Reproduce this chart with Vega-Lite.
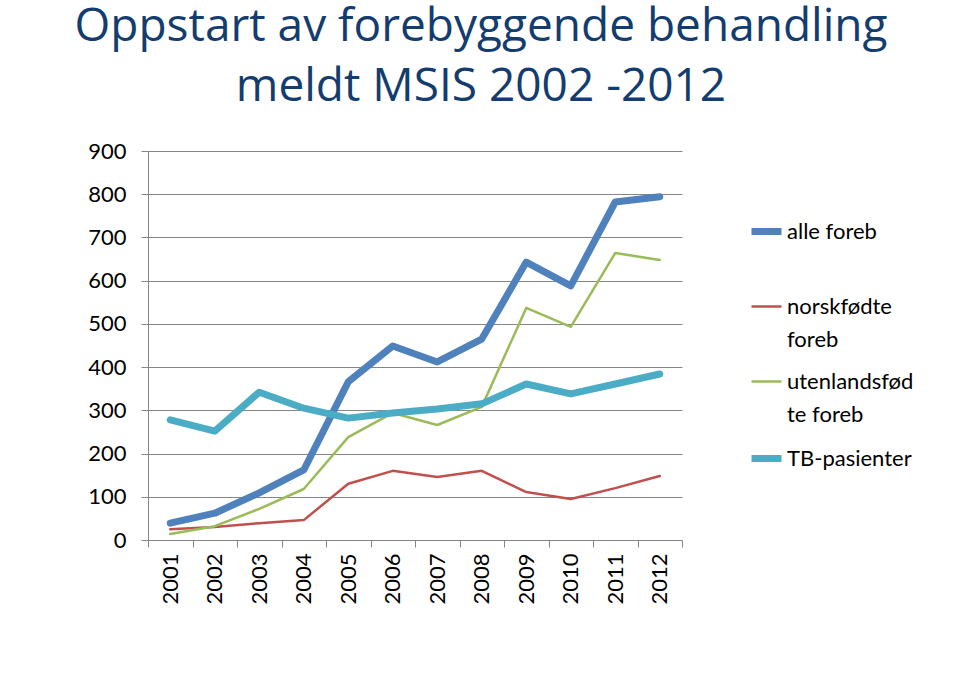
{
  "$schema": "https://vega.github.io/schema/vega-lite/v6.json",
  "width": 534,
  "height": 389,
  "autosize": {"type": "none"},
  "padding": {"left": 148, "top": 151, "right": 278, "bottom": 141},
  "background": "white",
  "title": {
    "text": ["Oppstart av forebyggende behandling", "meldt MSIS 2002 -2012"],
    "font": "Open Sans",
    "fontSize": 46,
    "fontWeight": "normal",
    "color": "#133D6E",
    "anchor": "middle",
    "dx": 66,
    "offset": 29,
    "lineHeight": 60
  },
  "data": {
    "values": [
      {"year": "2001", "series": "alle foreb", "value": 39},
      {"year": "2002", "series": "alle foreb", "value": 62},
      {"year": "2003", "series": "alle foreb", "value": 109},
      {"year": "2004", "series": "alle foreb", "value": 162},
      {"year": "2005", "series": "alle foreb", "value": 366},
      {"year": "2006", "series": "alle foreb", "value": 449},
      {"year": "2007", "series": "alle foreb", "value": 412},
      {"year": "2008", "series": "alle foreb", "value": 465},
      {"year": "2009", "series": "alle foreb", "value": 643},
      {"year": "2010", "series": "alle foreb", "value": 588},
      {"year": "2011", "series": "alle foreb", "value": 782},
      {"year": "2012", "series": "alle foreb", "value": 794},
      {"year": "2001", "series": "norskfødte foreb", "value": 25},
      {"year": "2002", "series": "norskfødte foreb", "value": 30},
      {"year": "2003", "series": "norskfødte foreb", "value": 39},
      {"year": "2004", "series": "norskfødte foreb", "value": 46},
      {"year": "2005", "series": "norskfødte foreb", "value": 130},
      {"year": "2006", "series": "norskfødte foreb", "value": 160},
      {"year": "2007", "series": "norskfødte foreb", "value": 146},
      {"year": "2008", "series": "norskfødte foreb", "value": 160},
      {"year": "2009", "series": "norskfødte foreb", "value": 111},
      {"year": "2010", "series": "norskfødte foreb", "value": 95},
      {"year": "2011", "series": "norskfødte foreb", "value": 120},
      {"year": "2012", "series": "norskfødte foreb", "value": 148},
      {"year": "2001", "series": "utenlandsfødte foreb", "value": 14},
      {"year": "2002", "series": "utenlandsfødte foreb", "value": 32},
      {"year": "2003", "series": "utenlandsfødte foreb", "value": 72},
      {"year": "2004", "series": "utenlandsfødte foreb", "value": 118},
      {"year": "2005", "series": "utenlandsfødte foreb", "value": 238},
      {"year": "2006", "series": "utenlandsfødte foreb", "value": 294},
      {"year": "2007", "series": "utenlandsfødte foreb", "value": 266},
      {"year": "2008", "series": "utenlandsfødte foreb", "value": 308},
      {"year": "2009", "series": "utenlandsfødte foreb", "value": 537},
      {"year": "2010", "series": "utenlandsfødte foreb", "value": 493},
      {"year": "2011", "series": "utenlandsfødte foreb", "value": 664},
      {"year": "2012", "series": "utenlandsfødte foreb", "value": 648},
      {"year": "2001", "series": "TB-pasienter", "value": 278},
      {"year": "2002", "series": "TB-pasienter", "value": 252},
      {"year": "2003", "series": "TB-pasienter", "value": 342},
      {"year": "2004", "series": "TB-pasienter", "value": 305},
      {"year": "2005", "series": "TB-pasienter", "value": 282},
      {"year": "2006", "series": "TB-pasienter", "value": 294},
      {"year": "2007", "series": "TB-pasienter", "value": 303},
      {"year": "2008", "series": "TB-pasienter", "value": 315},
      {"year": "2009", "series": "TB-pasienter", "value": 361},
      {"year": "2010", "series": "TB-pasienter", "value": 338},
      {"year": "2011", "series": "TB-pasienter", "value": 361},
      {"year": "2012", "series": "TB-pasienter", "value": 384}
    ]
  },
  "mark": {"type": "line", "strokeCap": "round", "strokeJoin": "round"},
  "encoding": {
    "x": {
      "field": "year",
      "type": "ordinal",
      "bandPosition": 0.5,
      "scale": {"type": "band", "paddingInner": 0, "paddingOuter": 0},
      "axis": {
        "title": null,
        "labelAngle": -90,
        "labelAlign": "right",
        "labelBaseline": "middle",
        "labelFont": "Lato",
        "labelFontSize": 22,
        "labelColor": "#000000",
        "labelPadding": 6,
        "tickBand": "extent",
        "tickSize": 7,
        "tickColor": "#868686",
        "domainColor": "#868686",
        "grid": false
      }
    },
    "y": {
      "field": "value",
      "type": "quantitative",
      "scale": {"domain": [0, 900]},
      "axis": {
        "title": null,
        "values": [0, 100, 200, 300, 400, 500, 600, 700, 800, 900],
        "labelFont": "Lato",
        "labelFontSize": 22,
        "labelColor": "#000000",
        "labelPadding": 15,
        "tickSize": 7,
        "tickColor": "#868686",
        "domainColor": "#868686",
        "gridColor": "#868686",
        "gridOpacity": 1
      }
    },
    "color": {
      "field": "series",
      "type": "nominal",
      "sort": ["alle foreb", "norskfødte foreb", "utenlandsfødte foreb", "TB-pasienter"],
      "scale": {
        "domain": ["alle foreb", "norskfødte foreb", "utenlandsfødte foreb", "TB-pasienter"],
        "range": ["#4F81BD", "#C0504D", "#9BBB59", "#4BACC6"]
      },
      "legend": {
        "title": null,
        "labelExpr": "datum.label == 'norskfødte foreb' ? ['norskfødte', 'foreb'] : datum.label == 'utenlandsfødte foreb' ? ['utenlandsfød', 'te foreb'] : [datum.label, '']",
        "encode": {"labels": {"update": {"lineHeight": {"value": 33}}}}
      }
    },
    "strokeWidth": {
      "field": "series",
      "type": "nominal",
      "sort": ["alle foreb", "norskfødte foreb", "utenlandsfødte foreb", "TB-pasienter"],
      "scale": {
        "type": "ordinal",
        "domain": ["alle foreb", "norskfødte foreb", "utenlandsfødte foreb", "TB-pasienter"],
        "range": [7, 2.5, 2.5, 7]
      },
      "legend": {
        "title": null,
        "labelExpr": "datum.label == 'norskfødte foreb' ? ['norskfødte', 'foreb'] : datum.label == 'utenlandsfødte foreb' ? ['utenlandsfød', 'te foreb'] : [datum.label, '']",
        "encode": {"labels": {"update": {"lineHeight": {"value": 33}}}}
      }
    }
  },
  "config": {
    "view": {"stroke": null},
    "legend": {
      "orient": "none",
      "legendX": 600,
      "legendY": 62,
      "labelFont": "Lato",
      "labelFontSize": 22,
      "labelColor": "#000000",
      "labelLimit": 300,
      "symbolType": "stroke",
      "symbolSize": 900,
      "labelOffset": 2,
      "rowPadding": 14
    }
  }
}
